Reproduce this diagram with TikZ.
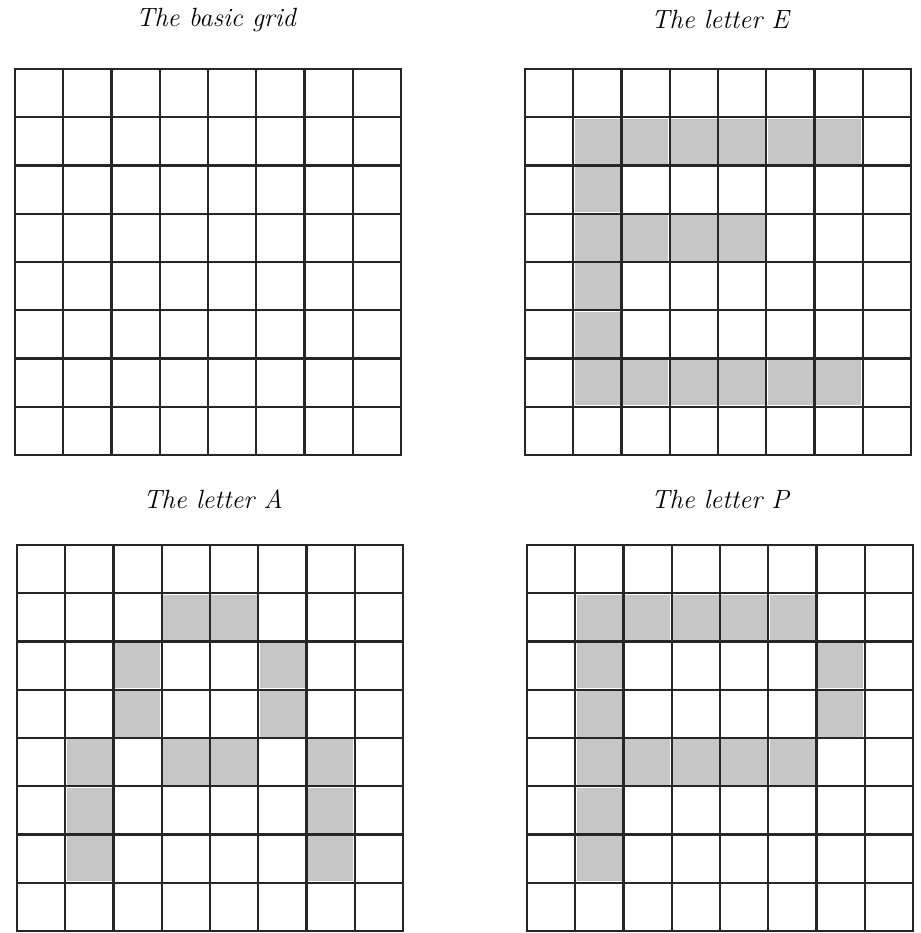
\documentclass[tikz,border=0pt]{standalone}
\usepackage{tikz}

\tikzset{
  gridline/.style={line width=1.4pt, black!85, line cap=rect},
  lit/.style={fill=gray!45},
  gridtitle/.style={font=\fontsize{15}{18}\selectfont\itshape}
}
% shade cells given as col/row, row 0 on top
\newcommand{\litcells}[1]{\foreach \c/\r in {#1} {\fill[lit] (\c+0.03,7.03-\r) rectangle (\c+0.97,7.97-\r);}}
\newcommand{\basegrid}{\foreach \i in {0,...,8} {\draw[gridline] (\i,0) -- (\i,8); \draw[gridline] (0,\i) -- (8,\i);}}

\begin{document}
\begin{tikzpicture}
  \useasboundingbox (0,0) rectangle (18.4,18.66);
  \node[gridtitle] (tbasic) at (4.32,18.26) {The basic grid};
  \node[gridtitle] (tletE) at (14.4,18.26) {The letter E};
  \node[gridtitle] (tletA) at (4.26,8.68) {The letter A};
  \node[gridtitle] (tletP) at (14.4,8.68) {The letter P};
  % empty grid
  \begin{scope}[shift={(0.30,9.56)}, x=0.965cm, y=0.965cm]
    \basegrid
  \end{scope}
  % E
  \begin{scope}[shift={(10.50,9.56)}, x=0.965cm, y=0.965cm]
    \litcells{1/1,2/1,3/1,4/1,5/1,6/1,1/2,1/3,2/3,3/3,4/3,1/4,1/5,1/6,2/6,3/6,4/6,5/6,6/6}
    \basegrid
  \end{scope}
  % A
  \begin{scope}[shift={(0.34,0.04)}, x=0.965cm, y=0.965cm]
    \litcells{3/1,4/1,2/2,5/2,2/3,5/3,1/4,3/4,4/4,6/4,1/5,6/5,1/6,6/6}
    \basegrid
  \end{scope}
  % P
  \begin{scope}[shift={(10.54,0.04)}, x=0.965cm, y=0.965cm]
    \litcells{1/1,2/1,3/1,4/1,5/1,1/2,6/2,1/3,6/3,1/4,2/4,3/4,4/4,5/4,1/5,1/6}
    \basegrid
  \end{scope}
\end{tikzpicture}
\end{document}
